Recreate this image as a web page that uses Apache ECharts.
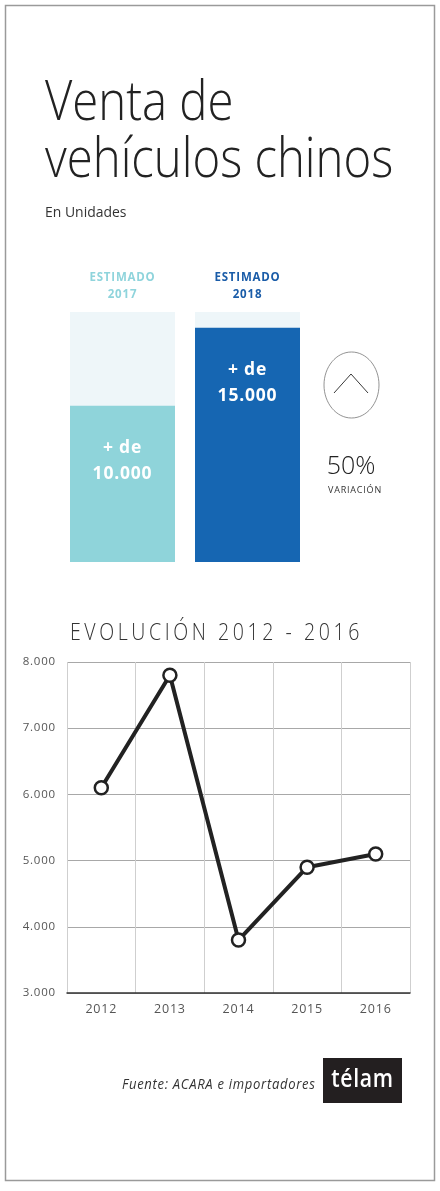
<!DOCTYPE html>
<html>
<head>
<meta charset="utf-8">
<script src="https://cdn.jsdelivr.net/npm/echarts@6/dist/echarts.min.js"></script>
<style>
html,body{margin:0;padding:0;background:#fff;}
#c{width:440px;height:1191px;}
</style>
</head>
<body>
<div id="c"></div>
<script>
// ---- data ----
const estCategories = ['2017', '2018'];
const estValues = [10000, 15000];
const estColors = ['#8fd4da', '#1666b2'];
const estLabelColors = ['#8fd4dc', '#1a5ca8'];
const variation = '50%';

const years = ['2012', '2013', '2014', '2015', '2016'];
const sales = [6100, 7800, 3800, 4900, 5100];
const yTicks = [3000, 4000, 5000, 6000, 7000, 8000];

// letter spacing for a few texts
const SPACED = {'EVOLUCIÓN 2012 - 2016': '4.2px', 'VARIACIÓN': '0.8px'};
const origFill = CanvasRenderingContext2D.prototype.fillText;
CanvasRenderingContext2D.prototype.fillText = function (t, x, y, m) {
  if (SPACED[t]) {
    const prev = this.letterSpacing;
    this.letterSpacing = SPACED[t];
    const r = m === undefined ? origFill.call(this, t, x, y) : origFill.call(this, t, x, y, m);
    this.letterSpacing = prev;
    return r;
  }
  return m === undefined ? origFill.call(this, t, x, y) : origFill.call(this, t, x, y, m);
};

const fmt = v => String(v).replace(/\B(?=(\d{3})+(?!\d))/g, '.');
const FONT = 'Open Sans';

const chart = echarts.init(document.getElementById('c'), null, {renderer: 'canvas'});
chart.setOption({
  backgroundColor: '#fff',
  animation: false,
  textStyle: {fontFamily: FONT},
  grid: [
    {left: 60, width: 250, top: 312, height: 250},
    {left: 67, right: 30, top: 662, height: 331}
  ],
  xAxis: [
    {
      gridIndex: 0, type: 'category', data: estCategories, position: 'top',
      axisLine: {show: false}, axisTick: {show: false},
      axisLabel: {
        formatter: 'ESTIMADO\n{value}', fontWeight: 'bold', fontSize: 11.5, lineHeight: 17,
        margin: 9, fontFamily: FONT,
        color: (v, i) => estLabelColors[i]
      }
    },
    {
      gridIndex: 1, type: 'category', data: years, boundaryGap: true,
      axisLine: {lineStyle: {color: '#333', width: 1.5}},
      axisTick: {show: false},
      axisLabel: {color: '#555', fontSize: 12.5, margin: 10, fontFamily: FONT},
      splitLine: {show: true, interval: 0, lineStyle: {color: '#cfcfcf', width: 1}}
    }
  ],
  yAxis: [
    {gridIndex: 0, type: 'value', min: 0, max: 16000, show: false},
    {
      gridIndex: 1, type: 'value', min: yTicks[0], max: yTicks[yTicks.length - 1], interval: 1000,
      axisLine: {show: false}, axisTick: {show: false},
      axisLabel: {color: '#555', fontSize: 11.5, margin: 11, formatter: fmt, fontFamily: FONT},
      splitLine: {lineStyle: {color: '#a8a8a8', width: 1}}
    }
  ],
  series: [
    {
      type: 'bar', xAxisIndex: 0, yAxisIndex: 0, barWidth: 105,
      data: estValues.map((v, i) => ({value: v, itemStyle: {color: estColors[i]}})),
      showBackground: true,
      backgroundStyle: {color: '#eef6f9'},
      label: {
        show: true, position: 'insideTop', distance: 29,
        formatter: p => '+ de\n' + fmt(p.value),
        color: '#fff', fontWeight: 'bold', fontSize: 17.5, lineHeight: 26, fontFamily: FONT
      }
    },
    {
      type: 'line', xAxisIndex: 1, yAxisIndex: 1, data: sales,
      lineStyle: {color: '#222', width: 4},
      symbol: 'circle', symbolSize: 13,
      itemStyle: {color: '#fff', borderColor: '#222', borderWidth: 2.5},
      z: 5
    }
  ],
  graphic: [
    {type: 'rect', shape: {x: 5.5, y: 5.5, width: 429, height: 1175}, style: {fill: 'none', stroke: '#9a9a9a', lineWidth: 1.5}, silent: true},
    {type: 'text', x: 45, y: 104, scaleX: 0.86, style: {text: 'Venta de', fill: '#222', font: '300 55px "Open Sans"', verticalAlign: 'middle'}},
    {type: 'text', x: 45, y: 161, scaleX: 0.86, style: {text: 'vehículos chinos', fill: '#222', font: '300 55px "Open Sans"', verticalAlign: 'middle'}},
    {type: 'text', x: 45, y: 213, scaleX: 0.93, style: {text: 'En Unidades', fill: '#333', font: '400 15px "Open Sans"', verticalAlign: 'middle'}},
    {type: 'ellipse', shape: {cx: 351.5, cy: 385, rx: 27.5, ry: 33}, style: {fill: '#fff', stroke: '#777', lineWidth: 0.8}},
    {type: 'polyline', shape: {points: [[334, 393], [351, 374], [368, 393]]}, style: {fill: 'none', stroke: '#222', lineWidth: 0.9}},
    {type: 'text', x: 351, y: 467, style: {text: variation, fill: '#222', font: '300 25px "Open Sans"', align: 'center', verticalAlign: 'middle'}},
    {type: 'text', x: 355, y: 490, style: {text: 'VARIACIÓN', fill: '#333', font: '400 9px "Open Sans"', align: 'center', verticalAlign: 'middle'}},
    {type: 'text', x: 70, y: 633, scaleX: 0.85, style: {text: 'EVOLUCIÓN 2012 - 2016', fill: '#333', font: '300 23px "Open Sans"', verticalAlign: 'middle'}},
    {type: 'text', x: 122, y: 1085, scaleX: 0.87, style: {text: 'Fuente: ACARA e importadores', fill: '#333', font: 'italic 400 15px "Open Sans"', verticalAlign: 'middle'}},
    {type: 'rect', shape: {x: 323, y: 1058, width: 79, height: 45}, style: {fill: '#231f20'}},
    {type: 'text', x: 362.5, y: 1080, scaleX: 0.85, style: {text: 'télam', fill: '#fff', font: '600 25px "Open Sans"', align: 'center', verticalAlign: 'middle'}}
  ]
});
</script>
</body>
</html>
